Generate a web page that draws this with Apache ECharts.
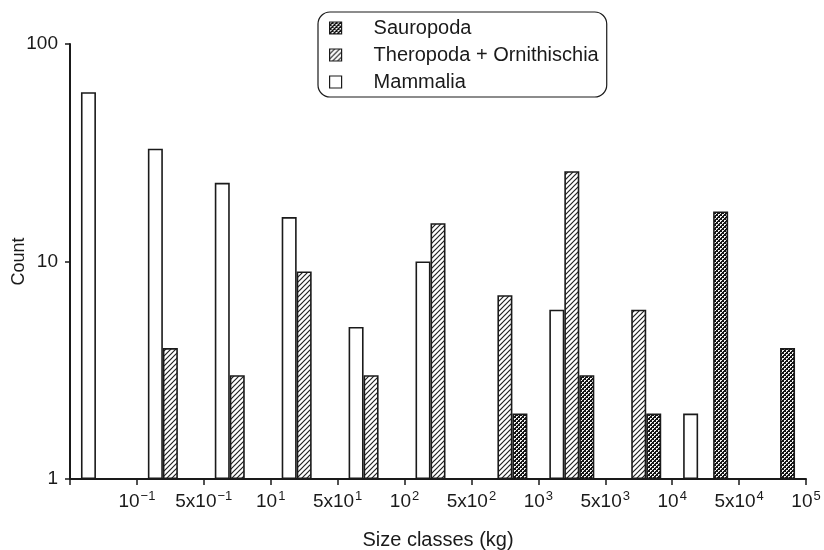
<!DOCTYPE html>
<html>
<head>
<meta charset="utf-8">
<script src="https://cdn.jsdelivr.net/npm/echarts@6/dist/echarts.min.js"></script>
<style>
  html, body { margin: 0; padding: 0; background: #fff; }
  #chart { width: 824px; height: 550px; }
</style>
</head>
<body>
<div id="chart"></div>
<script>
// size classes (bins between the tick marks)
const categories = ['b1', 'b2', 'b3', 'b4', 'b5', 'b6', 'b7', 'b8', 'b9', 'b10', 'b11']
// labels sit on the bin boundaries
const tickLabels = ['', '10^−1', '5x10^−1', '10^1', '5x10^1', '10^2', '5x10^2', '10^3', '5x10^3', '10^4', '5x10^4', '10^5']

const mammalia = [60, 33, 23, 16, 5, 10, null, 6, null, 2, null]
const theropoda = [null, 4, 3, 9, 3, 15, 7, 26, 6, null, null]
const sauropoda = [null, null, null, null, null, null, 2, 3, 2, 17, 4]

const ink = '#1a1a1a'

function hatchPattern() {
  const c = document.createElement('canvas')
  c.width = 5
  c.height = 5
  const ctx = c.getContext('2d')
  ctx.fillStyle = '#fff'
  ctx.fillRect(0, 0, 5, 5)
  ctx.strokeStyle = '#222'
  ctx.lineWidth = 1.2
  ctx.beginPath()
  ctx.moveTo(-1, 6); ctx.lineTo(6, -1)
  ctx.moveTo(-1, 1); ctx.lineTo(1, -1)
  ctx.moveTo(4, 6); ctx.lineTo(6, 4)
  ctx.stroke()
  return c
}

function checkPattern() {
  const c = document.createElement('canvas')
  c.width = 4
  c.height = 4
  const ctx = c.getContext('2d')
  ctx.fillStyle = '#151515'
  ctx.fillRect(0, 0, 4, 4)
  ctx.fillStyle = '#f2f2f2'
  ;[[0, 0], [1, 0], [0, 1], [2, 2], [3, 2], [2, 3]].forEach(([x, y]) => ctx.fillRect(x, y, 1, 1))
  return c
}

function supLabel(s) {
  if (!s) return ''
  const parts = s.split('^')
  return parts.length > 1 ? '{b|' + parts[0] + '}{sup|' + parts[1] + '}' : '{b|' + s + '}'
}

const chart = echarts.init(document.getElementById('chart'))

const barBase = {
  type: 'bar',
  barWidth: 15,
  barGap: '0%',
  xAxisIndex: 0,
}

chart.setOption({
  animation: false,
  textStyle: { fontFamily: 'Liberation Sans, Arial, sans-serif', color: ink },
  grid: { left: 70, right: 18, top: 44, bottom: 71, outerBoundsMode: 'none', containLabel: false },
  legend: {
    orient: 'vertical',
    left: 318,
    top: 12,
    width: 288,
    padding: [6, 8, 5, 11],
    itemGap: 7,
    itemWidth: 12,
    itemHeight: 12,
    icon: 'rect',
    borderColor: ink,
    borderWidth: 1.2,
    borderRadius: 12,
    data: ['Sauropoda', 'Theropoda + Ornithischia', 'Mammalia'],
    textStyle: { fontSize: 20, lineHeight: 20, color: ink, padding: [0, 0, 0, 27] },
    itemStyle: { borderColor: ink, borderWidth: 1.2 },
  },
  xAxis: [
    {
      type: 'category',
      data: categories,
      name: 'Size classes (kg)',
      nameLocation: 'middle',
      nameGap: 51,
      nameMoveOverlap: false,
      nameTextStyle: { fontSize: 20, color: ink },
      axisLine: { lineStyle: { color: ink, width: 2 } },
      axisTick: { show: true, length: 6, lineStyle: { color: ink, width: 1.5 } },
      axisLabel: { show: false },
      splitLine: { show: false },
    },
    {
      type: 'value',
      position: 'bottom',
      min: 0,
      max: 11,
      interval: 1,
      axisLine: { show: false },
      axisTick: { show: false },
      splitLine: { show: false },
      axisLabel: {
        margin: 10,
        showMinLabel: true,
        showMaxLabel: true,
        formatter: (v) => supLabel(tickLabels[Math.round(v)]),
        rich: {
          b: { fontSize: 19, color: ink, lineHeight: 22, verticalAlign: 'bottom' },
          sup: { fontSize: 13, color: ink, lineHeight: 22, verticalAlign: 'bottom', padding: [0, 0, 8, 1] },
        },
      },
    },
  ],
  yAxis: {
    type: 'log',
    logBase: 10,
    min: 1,
    max: 100,
    name: 'Count',
    nameLocation: 'middle',
    nameGap: 42,
    nameMoveOverlap: false,
    nameTextStyle: { fontSize: 18, color: ink },
    axisLine: { show: true, lineStyle: { color: ink, width: 2 } },
    axisTick: { show: true, length: 5, lineStyle: { color: ink, width: 1.5 } },
    minorTick: { show: false },
    splitLine: { show: false },
    axisLabel: { fontSize: 19, color: ink, margin: 12 },
  },
  series: [
    {
      ...barBase,
      name: 'Mammalia',
      data: mammalia,
      itemStyle: { color: '#fff', borderColor: ink, borderWidth: 1.6 },
    },
    {
      ...barBase,
      name: 'Theropoda + Ornithischia',
      data: theropoda,
      itemStyle: { color: { image: hatchPattern(), repeat: 'repeat' }, borderColor: ink, borderWidth: 1.6 },
    },
    {
      ...barBase,
      name: 'Sauropoda',
      data: sauropoda,
      itemStyle: { color: { image: checkPattern(), repeat: 'repeat' }, borderColor: ink, borderWidth: 1.6 },
    },
  ],
})
</script>
</body>
</html>
